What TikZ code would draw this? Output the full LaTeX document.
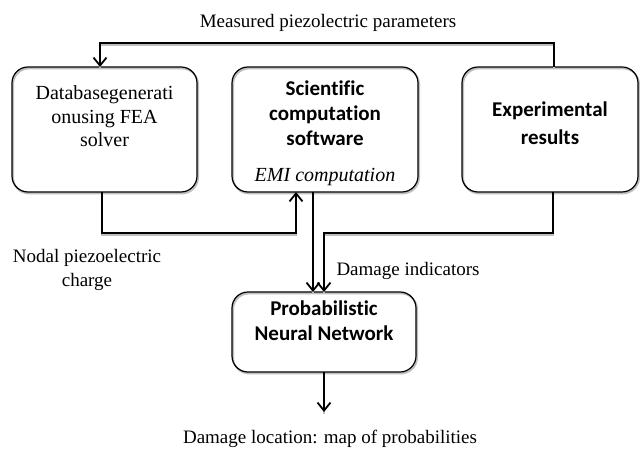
\documentclass[tikz,border=0pt]{standalone}
\usepackage{fontspec}
\setmainfont{Liberation Serif}
\newfontfamily\calibri[Ligatures=NoCommon]{Carlito}
\usetikzlibrary{arrows.meta,positioning}

\begin{document}
\begin{tikzpicture}[x=0.5pt,y=-0.5pt,
  box/.style={draw,line width=0.6pt,rounded corners=8pt,minimum height=62.5pt,inner sep=0pt,outer sep=0pt,
    preaction={draw=black!25,line width=1pt,transform canvas={shift={(0.5pt,-0.7pt)}}}},
  conn/.style={line width=0.9pt,-{Straight Barb[length=4pt,width=6.5pt]},
    preaction={draw=black!25,line width=0.9pt,-,transform canvas={yshift=-0.9pt}}},
  lbl/.style={font=\fontsize{9.5}{12}\selectfont,inner sep=0pt,align=center},
  sanstxt/.style={font=\calibri\bfseries\fontsize{10.5}{12.5}\selectfont,inner sep=0pt,align=center}]
\useasboundingbox (0,0) rectangle (640,448);

% the four blocks
\node[box,minimum width=92.5pt] (db) at (104.5,129.5) {};
\node[box,minimum width=93pt] (sci) at (325,129.5) {};
\node[box,minimum width=88pt] (exp) at (550,129.5) {};
\node[box,minimum width=92pt,minimum height=40pt] (pnn) at (324,332) {};

% block texts
\node[lbl,font=\fontsize{10}{11.7}\selectfont] (dbtxt) at ([yshift=6.5pt]db.center) {Databasegenerati\\onusing FEA\\solver};
\node[sanstxt] (scitxt) at ([yshift=8.25pt]sci.center) {Scientific\\computation\\software};
\node[lbl,font=\itshape\fontsize{10}{12}\selectfont] (emi) at ([yshift=7.5pt]sci.south) {EMI computation};
\node[sanstxt,font=\calibri\bfseries\fontsize{10.5}{14}\selectfont] (exptxt) at ([yshift=3pt]exp.center) {Experimental\\results};
\node[sanstxt] (pnntxt) at ([yshift=5.75pt]pnn.center) {Probabilistic\\Neural Network};

% labels of the connectors
\node[lbl] (meas) at (328,23) {Measured piezolectric parameters};
\node[lbl] (nodal) at (87,270) {Nodal piezoelectric\\charge};
\node[lbl] (dind) at (408,271) {Damage indicators};
\node[lbl] (dloc) at (330,439) {Damage location: map of probabilities};

% connectors
\draw[conn] ([xshift=2pt]exp.north) -- ++(0,-24) -| ([xshift=-2.25pt]db.north);
\draw[conn] ([xshift=-1.25pt]db.south) -- ++(0,41) -| ([xshift=-14.5pt]sci.south);
\draw[conn] ([xshift=-6pt]sci.south) -- ([xshift=-6pt]sci.south |- pnn.north);
\draw[conn] ([xshift=1.5pt]exp.south) -- ++(0,41) -| (pnn.north);
\coordinate (pnnout) at ([yshift=-20pt]pnn.south);
\draw[conn] (pnn.south) -- (pnnout);
\end{tikzpicture}
\end{document}
